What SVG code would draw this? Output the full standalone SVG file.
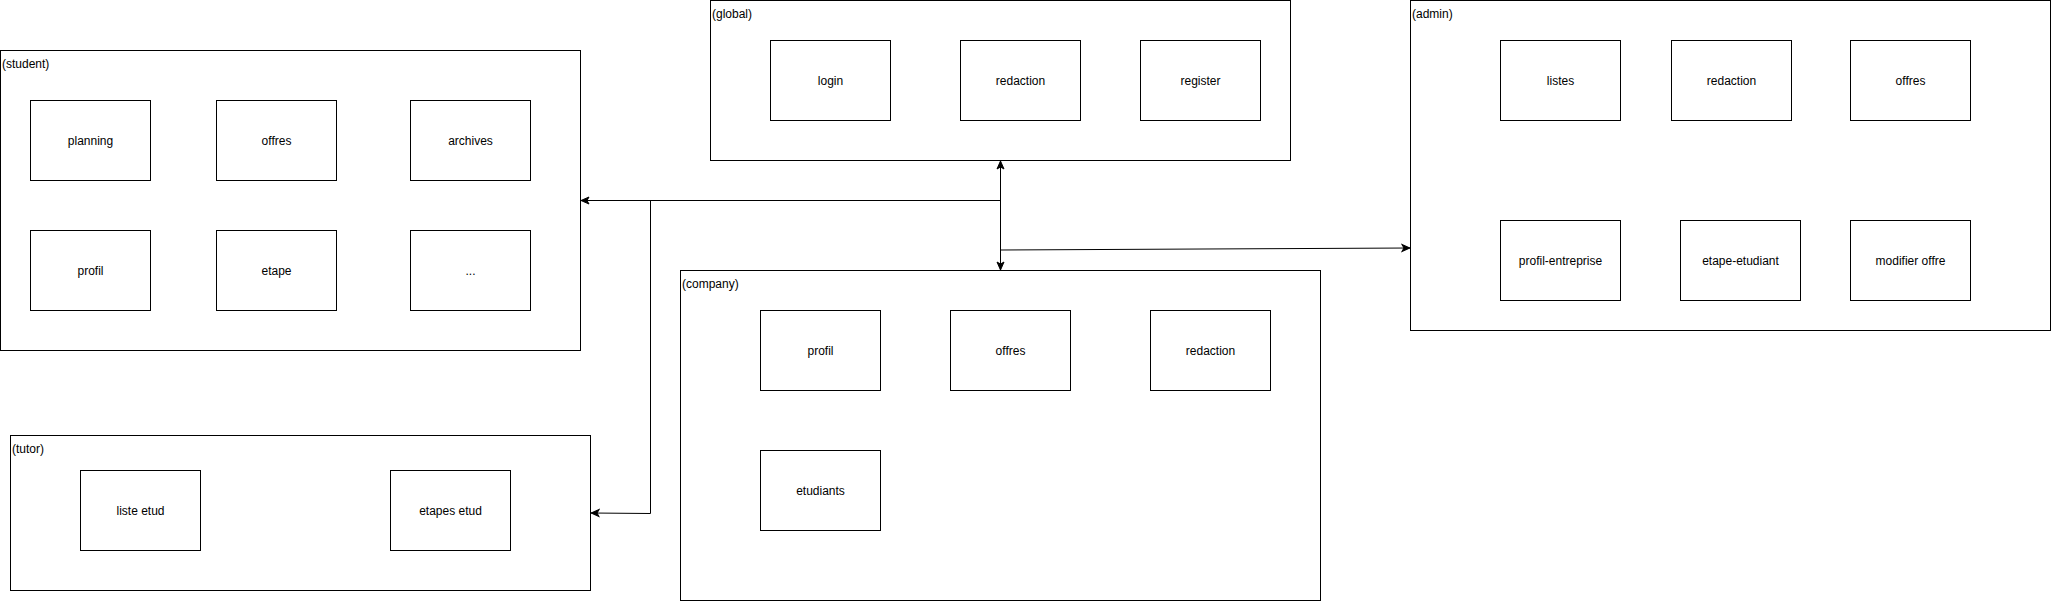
<svg xmlns="http://www.w3.org/2000/svg" width="2052" height="601" viewBox="0 0 2052 601">
<style>
rect{fill:#fff;stroke:#000;stroke-width:1}
text{font-family:"Liberation Sans",Arial,sans-serif;font-size:12px;fill:#000}
.c{text-anchor:middle}
.edge{fill:none;stroke:#000;stroke-width:1}
</style>
<defs>
<marker id="arr" markerUnits="userSpaceOnUse" markerWidth="10" markerHeight="10" viewBox="0 0 10 10" refX="9" refY="5" orient="auto-start-reverse">
<path d="M1,1.5 L9,5 L1,8.5 L3,5 Z" fill="#000" stroke="#000" stroke-width="1"/>
</marker>
</defs>
<g id="student">
<rect x="0.5" y="50.5" width="580" height="300"/>
<text x="2" y="68">(student)</text>
<g id="s-planning"><rect x="30.5" y="100.5" width="120" height="80"/><text class="c" x="90.5" y="144.5">planning</text></g>
<g id="s-offres"><rect x="216.5" y="100.5" width="120" height="80"/><text class="c" x="276.5" y="144.5">offres</text></g>
<g id="s-archives"><rect x="410.5" y="100.5" width="120" height="80"/><text class="c" x="470.5" y="144.5">archives</text></g>
<g id="s-profil"><rect x="30.5" y="230.5" width="120" height="80"/><text class="c" x="90.5" y="274.5">profil</text></g>
<g id="s-etape"><rect x="216.5" y="230.5" width="120" height="80"/><text class="c" x="276.5" y="274.5">etape</text></g>
<g id="s-more"><rect x="410.5" y="230.5" width="120" height="80"/><text class="c" x="470.5" y="274.5">...</text></g>
</g>
<g id="global">
<rect x="710.5" y="0.5" width="580" height="160"/>
<text x="712" y="18">(global)</text>
<g id="g-login"><rect x="770.5" y="40.5" width="120" height="80"/><text class="c" x="830.5" y="84.5">login</text></g>
<g id="g-redaction"><rect x="960.5" y="40.5" width="120" height="80"/><text class="c" x="1020.5" y="84.5">redaction</text></g>
<g id="g-register"><rect x="1140.5" y="40.5" width="120" height="80"/><text class="c" x="1200.5" y="84.5">register</text></g>
</g>
<g id="admin">
<rect x="1410.5" y="0.5" width="640" height="330"/>
<text x="1412" y="18">(admin)</text>
<g id="a-listes"><rect x="1500.5" y="40.5" width="120" height="80"/><text class="c" x="1560.5" y="84.5">listes</text></g>
<g id="a-redaction"><rect x="1671.5" y="40.5" width="120" height="80"/><text class="c" x="1731.5" y="84.5">redaction</text></g>
<g id="a-offres"><rect x="1850.5" y="40.5" width="120" height="80"/><text class="c" x="1910.5" y="84.5">offres</text></g>
<g id="a-profil-entreprise"><rect x="1500.5" y="220.5" width="120" height="80"/><text class="c" x="1560.5" y="264.5">profil-entreprise</text></g>
<g id="a-etape-etudiant"><rect x="1680.5" y="220.5" width="120" height="80"/><text class="c" x="1740.5" y="264.5">etape-etudiant</text></g>
<g id="a-modifier-offre"><rect x="1850.5" y="220.5" width="120" height="80"/><text class="c" x="1910.5" y="264.5">modifier offre</text></g>
</g>
<g id="company">
<rect x="680.5" y="270.5" width="640" height="330"/>
<text x="682" y="288">(company)</text>
<g id="c-profil"><rect x="760.5" y="310.5" width="120" height="80"/><text class="c" x="820.5" y="354.5">profil</text></g>
<g id="c-offres"><rect x="950.5" y="310.5" width="120" height="80"/><text class="c" x="1010.5" y="354.5">offres</text></g>
<g id="c-redaction"><rect x="1150.5" y="310.5" width="120" height="80"/><text class="c" x="1210.5" y="354.5">redaction</text></g>
<g id="c-etudiants"><rect x="760.5" y="450.5" width="120" height="80"/><text class="c" x="820.5" y="494.5">etudiants</text></g>
</g>
<g id="tutor">
<rect x="10.5" y="435.5" width="580" height="155"/>
<text x="12" y="453">(tutor)</text>
<g id="t-liste-etud"><rect x="80.5" y="470.5" width="120" height="80"/><text class="c" x="140.5" y="514.5">liste etud</text></g>
<g id="t-etapes-etud"><rect x="390.5" y="470.5" width="120" height="80"/><text class="c" x="450.5" y="514.5">etapes etud</text></g>
</g>
<g id="connectors">
<path class="edge" d="M1000.5,270 L1000.5,161" marker-start="url(#arr)" marker-end="url(#arr)"/>
<path class="edge" d="M1000.5,200.5 L581,200.5" marker-end="url(#arr)"/>
<path class="edge" d="M1000.5,250 L1410,248" marker-end="url(#arr)"/>
<path class="edge" d="M650.5,200.5 L650.5,513.5 L591,513" marker-end="url(#arr)"/>
</g>
</svg>
